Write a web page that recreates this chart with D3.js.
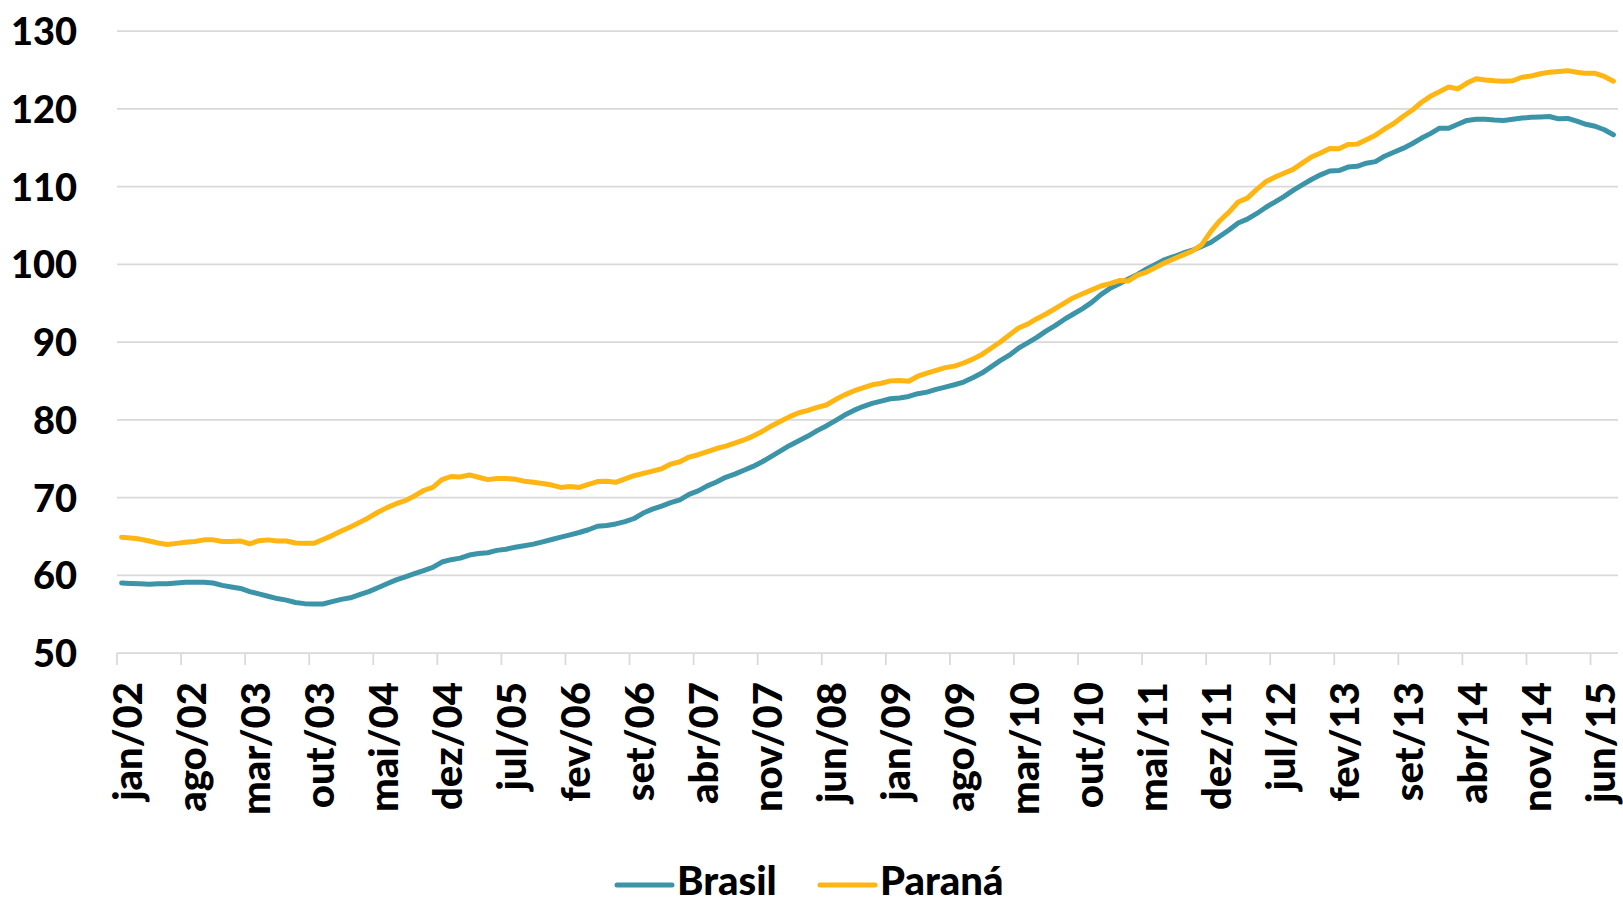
<!DOCTYPE html>
<html>
<head>
<meta charset="utf-8">
<script src="https://cdn.jsdelivr.net/npm/d3@7"></script>
<style>
  html, body { margin: 0; padding: 0; background: #fff; }
  svg { display: block; font-family: Lato, 'Open Sans', sans-serif; font-weight: 900; }
</style>
</head>
<body>
<div id="chart"></div>
<script>
// Month names used for the category labels (jan/02 .. ago/15)
const monthNames = ['jan', 'fev', 'mar', 'abr', 'mai', 'jun', 'jul', 'ago', 'set', 'out', 'nov', 'dez'];
const startYear = 2002;
const monthCount = 164;

const yTicks = [50, 60, 70, 80, 90, 100, 110, 120, 130];

const brasil = [
  59.0, 58.95, 58.9, 58.85, 58.9, 58.9, 59.0, 59.1, 59.1, 59.1, 59.0, 58.7,
  58.5, 58.3, 57.9, 57.6, 57.3, 57.0, 56.8, 56.5, 56.35, 56.3, 56.3, 56.6,
  56.9, 57.1, 57.5, 57.9, 58.4, 58.9, 59.4, 59.8, 60.2, 60.6, 61.0, 61.7,
  62.0, 62.2, 62.6, 62.8, 62.9, 63.2, 63.35, 63.6, 63.8, 64.0, 64.3, 64.6,
  64.9, 65.2, 65.5, 65.85, 66.3, 66.4, 66.6, 66.9, 67.3, 68.0, 68.5, 68.9,
  69.35, 69.7, 70.4, 70.85, 71.5, 72.0, 72.6, 73.0, 73.5, 74.0, 74.6, 75.3,
  76.0, 76.7, 77.3, 77.9, 78.6, 79.2, 79.9, 80.6, 81.2, 81.7, 82.1, 82.4,
  82.7, 82.8, 83.0, 83.35, 83.55, 83.9, 84.2, 84.5, 84.85, 85.4, 86.0, 86.8,
  87.6, 88.3, 89.2, 89.9, 90.6, 91.4, 92.1, 92.9, 93.6, 94.3, 95.1, 96.1,
  96.9, 97.5, 98.1, 98.7, 99.4, 100.0, 100.6, 101.0, 101.45, 101.8, 102.3, 102.8,
  103.6, 104.4, 105.3, 105.8, 106.5, 107.3, 108.0, 108.7, 109.5, 110.2, 110.9, 111.5,
  112.0, 112.05, 112.5, 112.6, 113.0, 113.2, 113.9, 114.4, 114.9, 115.5, 116.2, 116.8,
  117.5, 117.5, 118.0, 118.5, 118.65, 118.65, 118.55, 118.5, 118.65, 118.8, 118.9, 118.95,
  119.0, 118.7, 118.75, 118.4, 118.0, 117.75, 117.3, 116.65
];

const parana = [
  64.9, 64.8, 64.65, 64.4, 64.15, 63.95, 64.1, 64.25, 64.35, 64.55, 64.55, 64.35,
  64.35, 64.4, 64.05, 64.45, 64.55, 64.4, 64.4, 64.15, 64.1, 64.1, 64.6, 65.1,
  65.7, 66.2, 66.8, 67.4, 68.1, 68.7, 69.2, 69.6, 70.2, 70.9, 71.3, 72.3,
  72.7, 72.65, 72.9, 72.6, 72.3, 72.45, 72.45, 72.35, 72.1, 71.95, 71.8, 71.6,
  71.3, 71.4, 71.3, 71.7, 72.05, 72.1, 71.95, 72.4, 72.8, 73.1, 73.4, 73.7,
  74.3, 74.6, 75.2, 75.5, 75.9, 76.3, 76.6, 77.0, 77.4, 77.9, 78.5, 79.2,
  79.8, 80.4, 80.9, 81.2, 81.6, 81.9, 82.6, 83.2, 83.7, 84.1, 84.5, 84.7,
  85.0, 85.05, 84.95, 85.6, 86.0, 86.35, 86.7, 86.9, 87.3, 87.8, 88.4, 89.2,
  90.0, 90.9, 91.8, 92.3, 93.0, 93.6, 94.3, 95.0, 95.7, 96.2, 96.7, 97.2,
  97.5, 97.9, 97.85, 98.6, 99.0, 99.6, 100.2, 100.7, 101.2, 101.7, 102.5, 104.2,
  105.6, 106.7, 108.0, 108.5, 109.6, 110.6, 111.2, 111.7, 112.2, 113.0, 113.8, 114.3,
  114.9, 114.85, 115.4, 115.45, 116.0, 116.6, 117.4, 118.1, 119.0, 119.8, 120.8, 121.6,
  122.2, 122.8, 122.55, 123.3, 123.85, 123.7, 123.6, 123.55, 123.6, 124.05, 124.2, 124.5,
  124.7, 124.8, 124.9, 124.7, 124.55, 124.55, 124.15, 123.55
];

const seriesNames = ['Brasil', 'Paraná'];
const seriesColors = ['#3C94A9', '#FFB612'];

// Category labels
const categories = d3.range(monthCount).map(i =>
  `${monthNames[i % 12]}/${String((startYear + Math.floor(i / 12)) % 100).padStart(2, '0')}`);

const width = 1623;
const height = 904;
const margin = { top: 31, right: 5, bottom: 251, left: 117 };
const plotW = width - margin.left - margin.right;
const plotH = height - margin.top - margin.bottom;

const svg = d3.select('#chart').append('svg')
  .attr('width', width)
  .attr('height', height);

const g = svg.append('g')
  .attr('transform', `translate(${margin.left}, ${margin.top})`);

// Scales
const x = d3.scaleBand()
  .domain(categories)
  .range([0, plotW])
  .paddingInner(0)
  .paddingOuter(0);
const y = d3.scaleLinear().domain([50, 130]).range([plotH, 0]);

// Gridlines
g.append('g')
  .selectAll('line')
  .data(yTicks.filter(d => d > 50))
  .enter()
  .append('line')
  .attr('x1', 0)
  .attr('x2', plotW)
  .attr('y1', d => y(d))
  .attr('y2', d => y(d))
  .attr('stroke', '#D9D9D9')
  .attr('stroke-width', 1.75);

// Y axis labels
const yAxis = d3.axisLeft(y)
  .tickValues(yTicks)
  .tickSize(0)
  .tickPadding(40);
const yAxisG = g.append('g').call(yAxis);
yAxisG.select('.domain').remove();
yAxisG.selectAll('text')
  .attr('font-size', 38)
  .attr('font-family', 'Lato, sans-serif')
  .attr('font-weight', 900)
  .attr('fill', '#000')
  .attr('dy', '0.36em');

// X axis: baseline and tick marks every 7 months (at category edges)
const tickIdx = d3.range(0, monthCount, 7);
g.append('line')
  .attr('x1', 0)
  .attr('x2', plotW)
  .attr('y1', plotH)
  .attr('y2', plotH)
  .attr('stroke', '#D9D9D9')
  .attr('stroke-width', 1.75);

g.append('g')
  .selectAll('line')
  .data(tickIdx)
  .enter()
  .append('line')
  .attr('x1', i => x(categories[i]))
  .attr('x2', i => x(categories[i]))
  .attr('y1', plotH)
  .attr('y2', plotH + 12)
  .attr('stroke', '#D9D9D9')
  .attr('stroke-width', 1.75);

g.append('g')
  .selectAll('text')
  .data(tickIdx)
  .enter()
  .append('text')
  .attr('transform', i => `translate(${x(categories[i]) + x.bandwidth() / 2 + 6}, ${plotH + 29}) rotate(-90)`)
  .attr('text-anchor', 'end')
  .attr('dy', '0.35em')
  .attr('font-size', 40)
  .attr('fill', '#000')
  .text(i => categories[i]);

// Lines
const line = d3.line()
  .x((d, i) => x(categories[i]) + x.bandwidth() / 2)
  .y(d => y(d));

[brasil, parana].forEach((data, k) => {
  g.append('path')
    .datum(data)
    .attr('fill', 'none')
    .attr('stroke', seriesColors[k])
    .attr('stroke-width', 5)
    .attr('stroke-linejoin', 'round')
    .attr('stroke-linecap', 'round')
    .attr('d', line);
});

// Legend
const legendX = [617, 820];
const legend = svg.append('g');
seriesNames.forEach((name, k) => {
  legend.append('line')
    .attr('x1', legendX[k])
    .attr('x2', legendX[k] + 55)
    .attr('y1', 885)
    .attr('y2', 885)
    .attr('stroke', seriesColors[k])
    .attr('stroke-width', 5)
    .attr('stroke-linecap', 'round');
  legend.append('text')
    .attr('x', legendX[k] + 60)
    .attr('y', 895)
    .attr('font-size', 40)
    .attr('fill', '#000')
    .text(name);
});
</script>
</body>
</html>
